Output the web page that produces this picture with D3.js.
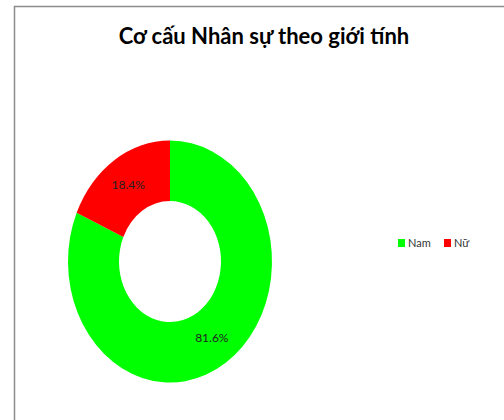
<!DOCTYPE html>
<html><head><meta charset="utf-8">
<script src="https://cdn.jsdelivr.net/npm/d3@7"></script>
<style>body{margin:0;background:#fff}svg{display:block}</style>
</head><body>
<script>
const title = "Cơ cấu Nhân sự theo giới tính";
const categories = ["Nam", "Nữ"];
const values = [81.6, 18.4];
const colors = ["#00ff00", "#ff0000"];

const W = 504, H = 420;
const svg = d3.select("body").append("svg").attr("width", W).attr("height", H);
svg.append("rect").attr("width", W).attr("height", H).attr("fill", "#fff");
// frame
svg.append("path").attr("d", `M14.5,${H} V6.5 H${W}`).attr("fill", "none").attr("stroke", "#8c8c8c").attr("stroke-width", 1.5);

svg.append("text").attr("x", 264).attr("y", 44).attr("text-anchor", "middle")
  .attr("font-family", "Lato, 'Open Sans', sans-serif").attr("font-weight", "bold")
  .attr("font-size", 22).attr("fill", "#000").text(title);

const data = categories.map((c, i) => ({ cat: c, value: values[i], color: colors[i] }));
const pie = d3.pie().value(d => d.value).sort(null);
const arcs = pie(data);
const R = 100;
const arc = d3.arc().innerRadius(R * 0.5).outerRadius(R);
const labelArc = d3.arc().innerRadius(R * 0.75).outerRadius(R * 0.75);

const g = svg.append("g").attr("transform", "translate(170,261.5) scale(1.02,1.21)");
g.selectAll("path.slice").data(arcs).join("path").attr("class", "slice")
  .attr("d", arc).attr("fill", d => d.data.color);

const sx = 1.02, sy = 1.21;
svg.selectAll("text.lbl").data(arcs).join("text").attr("class", "lbl")
  .attr("x", d => 170 + labelArc.centroid(d)[0] * sx)
  .attr("y", d => 261.5 + labelArc.centroid(d)[1] * sy + 4)
  .attr("text-anchor", "middle")
  .attr("font-family", "Lato, sans-serif").attr("font-size", 12).attr("fill", "#222")
  .text(d => d.data.value.toFixed(1) + "%");

// legend
const leg = svg.append("g").attr("transform", "translate(398,239)");
const items = leg.selectAll("g").data(data).join("g")
  .attr("transform", (d, i) => `translate(${i * 46},0)`);
items.append("rect").attr("width", 7).attr("height", 8).attr("fill", d => d.color);
items.append("text").attr("x", 10).attr("y", 8).attr("font-family", "Lato, sans-serif")
  .attr("font-size", 11).attr("fill", "#333").text(d => d.cat);
</script>
</body></html>
